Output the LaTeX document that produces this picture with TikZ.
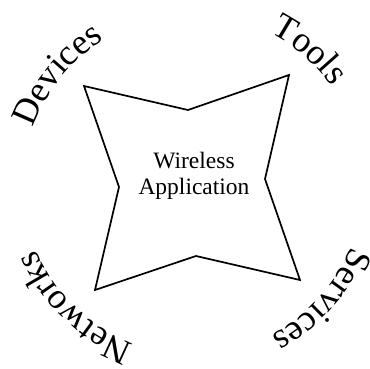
\documentclass[tikz,border=0pt]{standalone}
\usepackage{fontspec}
\setmainfont{Liberation Serif}
\usetikzlibrary{decorations.text}
\newcommand{\outerfont}{\fontsize{36pt}{40pt}\selectfont}
\tikzset{
  star/.style={draw=black, line width=1.7pt, line join=miter},
  arclabel/.style={decorate, decoration={text along path, text align=center, text={|\outerfont|#1}}},
  center label/.style={align=center, inner sep=0pt, font=\fontsize{23.5pt}{26pt}\selectfont}
}
\begin{document}
\begin{tikzpicture}[x=1pt,y=1pt]
\useasboundingbox (0,0) rectangle (370,368);
\coordinate (c) at (193,183.5);
\coordinate (p1) at (84,282);
\coordinate (p2) at (188,258);
\coordinate (p3) at (289,293);
\coordinate (p4) at (265,189);
\coordinate (p5) at (300,88);
\coordinate (p6) at (196,112);
\coordinate (p7) at (95,78);
\coordinate (p8) at (119,181);
\draw[star] (p1) -- (p2) -- (p3) -- (p4) -- (p5) -- (p6) -- (p7) -- (p8) -- cycle;
\node[center label] (app) at (194,192.5) {Wireless\\Application};
\path[arclabel=Devices] (c) ++(176:170pt) arc[start angle=176, end angle=106, radius=170pt];
\path[arclabel=Tools] (c) ++(84:170pt) arc[start angle=84, end angle=14, radius=170pt];
\path[arclabel=Services] (c) ++(353:170pt) arc[start angle=353, end angle=283, radius=170pt];
\path[arclabel=Networks] (c) ++(261:170pt) arc[start angle=261, end angle=191, radius=170pt];
\end{tikzpicture}
\end{document}
